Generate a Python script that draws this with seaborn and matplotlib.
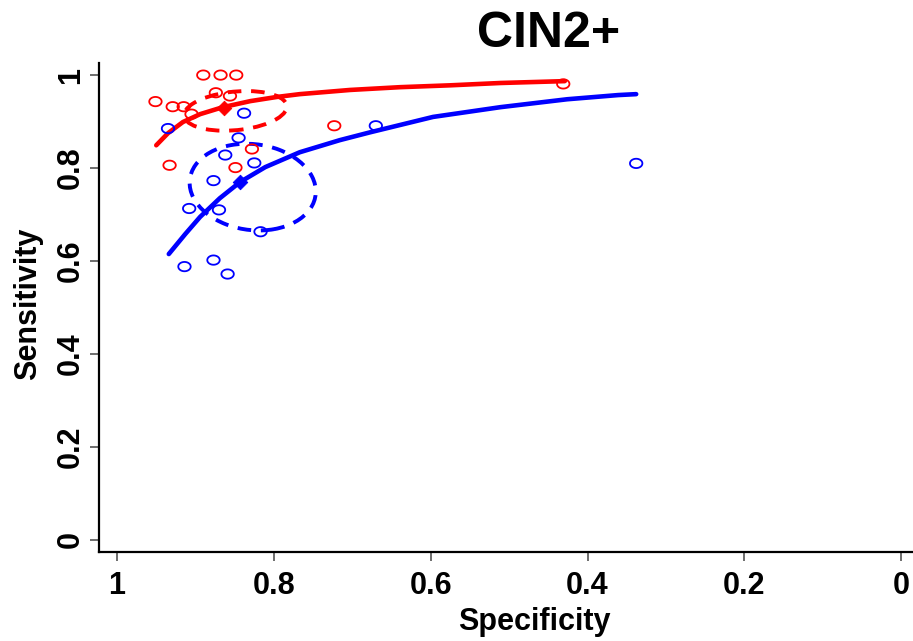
import numpy as np
import pandas as pd
import matplotlib
matplotlib.use("Agg")
import matplotlib.pyplot as plt
from matplotlib.patches import Ellipse
from matplotlib.path import Path
import seaborn as sns

# estudos individuais (especificidade, sensibilidade)
red_spec = [0.890, 0.868, 0.848, 0.951, 0.929, 0.915, 0.905, 0.874, 0.856, 0.723, 0.828, 0.933, 0.849, 0.431]
red_sens = [1.000, 1.000, 1.000, 0.943, 0.932, 0.932, 0.916, 0.962, 0.955, 0.891, 0.841, 0.806, 0.801, 0.981]
blue_spec = [0.935, 0.838, 0.670, 0.845, 0.862, 0.825, 0.877, 0.908, 0.870, 0.817, 0.914, 0.877, 0.859, 0.338]
blue_sens = [0.885, 0.918, 0.891, 0.865, 0.828, 0.811, 0.773, 0.713, 0.710, 0.663, 0.588, 0.602, 0.572, 0.810]

# curvas SROC
red_curve_spec = [0.950, 0.935, 0.916, 0.894, 0.865, 0.830, 0.796, 0.767, 0.703, 0.639, 0.575, 0.511, 0.429]
red_curve_sens = [0.849, 0.875, 0.899, 0.916, 0.931, 0.944, 0.953, 0.959, 0.968, 0.974, 0.978, 0.983, 0.987]
blue_curve_spec = [0.934, 0.913, 0.894, 0.869, 0.843, 0.811, 0.767, 0.716, 0.677, 0.597, 0.511, 0.426, 0.361, 0.338]
blue_curve_sens = [0.615, 0.658, 0.695, 0.735, 0.770, 0.802, 0.834, 0.860, 0.877, 0.910, 0.931, 0.948, 0.957, 0.959]

# pontos resumo
red_summary = (0.863, 0.929)
blue_summary = (0.843, 0.771)

# regioes de confianca: centro, largura, altura, angulo
red_region = (0.849, 0.923, 0.133, 0.082, -13)
blue_region = (0.827, 0.759, 0.158, 0.189, -17)

xticks = [1, 0.8, 0.6, 0.4, 0.2, 0]
xtick_labels = ["1", "0.8", "0.6", "0.4", "0.2", "0"]
yticks = [0, 0.2, 0.4, 0.6, 0.8, 1]
ytick_labels = ["0", "0.2", "0.4", "0.6", "0.8", "1"]

RED = "#ff0000"
BLUE = "#0000ff"

sns.set_style("white")
plt.rcParams["font.family"] = ["Liberation Sans", "DejaVu Sans"]
plt.rcParams["font.weight"] = "bold"
plt.rcParams["text.color"] = "black"
plt.rcParams["axes.labelcolor"] = "black"
plt.rcParams["xtick.labelcolor"] = "black"
plt.rcParams["ytick.labelcolor"] = "black"

fig = plt.figure(figsize=(9.13, 6.41), dpi=100)
ax = fig.add_axes([99 / 913, (641 - 552) / 641, 1 - 99 / 913, (552 - 63) / 641])

# marcador circular achatado (como no R)
t = np.linspace(0, 2 * np.pi, 60)
oval = Path(np.column_stack([np.cos(t), 0.75 * np.sin(t)]), closed=True)

for spec, sens, cor in [(red_spec, red_sens, RED), (blue_spec, blue_sens, BLUE)]:
    sns.scatterplot(x=spec, y=sens, ax=ax, marker=oval, s=80,
                    facecolors="none", edgecolor=cor, linewidth=1.3, zorder=3)

for cs, cv, cor in [(red_curve_spec, red_curve_sens, RED), (blue_curve_spec, blue_curve_sens, BLUE)]:
    df = pd.DataFrame({"spec": cs, "sens": cv})
    sns.lineplot(data=df, x="spec", y="sens", ax=ax, sort=False, estimator=None,
                 color=cor, linewidth=3.3, zorder=2)
for ln in ax.get_lines():
    ln.set_solid_joinstyle("round")

for (cx, cy, w, h, ang), cor in [(red_region, RED), (blue_region, BLUE)]:
    ax.add_patch(Ellipse((cx, cy), w, h, angle=ang, fill=False, edgecolor=cor,
                         linewidth=2.8, linestyle=(0, (3.5, 2.5)), zorder=2))

for (sx, sy), cor in [(red_summary, RED), (blue_summary, BLUE)]:
    sns.scatterplot(x=[sx], y=[sy], ax=ax, marker="D", s=55, color=cor,
                    edgecolor=cor, zorder=4)

ax.set_xlim(1.023, -0.015)
ax.set_ylim(-0.026, 1.026)

for s in ["top", "right"]:
    ax.spines[s].set_visible(False)
for s in ["left", "bottom"]:
    ax.spines[s].set_linewidth(1.6)
    ax.spines[s].set_color("black")

ax.set_xticks(xticks)
ax.set_xticklabels(xtick_labels, fontsize=22, fontweight="bold", color="black")
ax.set_yticks(yticks)
ax.set_yticklabels(ytick_labels, fontsize=22, fontweight="bold", color="black",
                   rotation=90, va="center")
ax.tick_params(axis="x", which="major", direction="out", length=6.5,
               width=1.2, color="#555555", pad=7, bottom=True)
ax.tick_params(axis="y", which="major", direction="out", length=6.5,
               width=1.2, color="#555555", pad=3, left=True)

ax.set_xlabel("Specificity", fontsize=22, fontweight="bold", color="black")
ax.set_ylabel("Sensitivity", fontsize=22, fontweight="bold", color="black")
ax.xaxis.label.set_va("center")
ax.yaxis.label.set_va("center")
ax.xaxis.set_label_coords((534 - 99) / 814, (552 - 622) / 489)
ax.yaxis.set_label_coords((28 - 99) / 814, (552 - 304) / 489)

fig.text(549 / 913, 1 - 34 / 641, "CIN2+", fontsize=36, fontweight="bold",
         ha="center", va="center", color="black")

fig.savefig("out.png", dpi=100)
